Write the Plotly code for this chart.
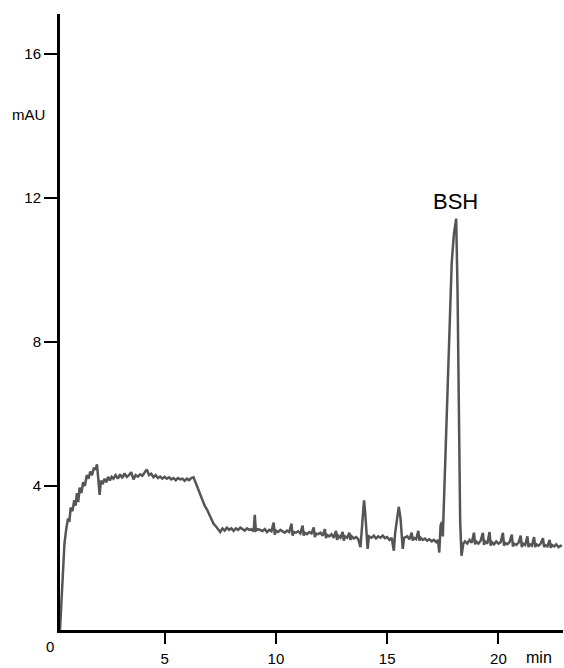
import plotly.graph_objects as go

time_min = [0.30, 0.34, 0.38, 0.44, 0.50, 0.58, 0.66, 0.72, 0.78, 0.86, 0.94, 1.00, 1.06, 1.12, 1.18, 1.26,
            1.34, 1.42, 1.50, 1.58, 1.66, 1.74, 1.82, 1.90, 1.96, 2.02, 2.08, 2.14, 2.22, 2.30, 2.38, 2.46,
            2.54, 2.62, 2.70, 2.80, 2.90, 3.00, 3.10, 3.20, 3.30, 3.40, 3.50, 3.60, 3.70, 3.80, 3.90, 4.00,
            4.10, 4.20, 4.30, 4.40, 4.50, 4.60, 4.70, 4.80, 4.90, 5.00, 5.10, 5.20, 5.30, 5.40, 5.50, 5.60,
            5.70, 5.80, 5.90, 6.00, 6.10, 6.20, 6.30, 6.40, 6.50, 6.60, 6.70, 6.80, 6.90, 7.00, 7.10, 7.20,
            7.30, 7.40, 7.50, 7.60, 7.70, 7.80, 7.90, 8.00, 8.10, 8.20, 8.30, 8.40, 8.50, 8.60, 8.70, 8.80,
            8.90, 9.00, 9.05, 9.10, 9.20, 9.30, 9.40, 9.50, 9.60, 9.70, 9.80, 9.90, 9.95, 10.00,
            10.1, 10.2, 10.3, 10.4, 10.5, 10.6, 10.7, 10.75, 10.8, 10.9, 11.0, 11.1, 11.2, 11.25, 11.3, 11.4,
            11.5, 11.6, 11.7, 11.75, 11.8, 11.9, 12.0, 12.1, 12.2, 12.25, 12.3, 12.4, 12.5, 12.6, 12.7, 12.75,
            12.8, 12.9, 13.0, 13.05, 13.1, 13.2, 13.3, 13.35, 13.4, 13.5, 13.6, 13.7, 13.8, 13.85, 13.9, 13.96,
            14.02, 14.08, 14.12, 14.18, 14.3, 14.4, 14.5, 14.6, 14.7, 14.8, 14.9, 15.0, 15.1, 15.2, 15.3, 15.36,
            15.44, 15.52, 15.6, 15.66, 15.7, 15.76, 15.9, 16.0, 16.1, 16.15, 16.2, 16.3, 16.4, 16.45, 16.5, 16.6,
            16.7, 16.8, 16.9, 17.0, 17.1, 17.2, 17.28, 17.34, 17.4, 17.46, 17.5, 17.6, 17.7, 17.8, 17.9, 18.0,
            18.1, 18.16, 18.2, 18.24, 18.28, 18.34, 18.42, 18.5, 18.6, 18.7, 18.8, 18.9, 18.95, 19.0, 19.1, 19.2,
            19.3, 19.35, 19.4, 19.5, 19.6, 19.65, 19.7, 19.8, 19.9, 20.0, 20.1, 20.2, 20.25, 20.3, 20.4, 20.5,
            20.6, 20.65, 20.7, 20.8, 20.9, 21.0, 21.05, 21.1, 21.2, 21.3, 21.35, 21.4, 21.5, 21.6, 21.65, 21.7,
            21.8, 21.9, 22.0, 22.05, 22.1, 22.2, 22.3, 22.35, 22.4, 22.5, 22.6, 22.7, 22.8, 22.85]

absorbance_mau = [0.0, 0.5, 1.2, 2.0, 2.4, 2.8, 3.1, 3.0, 3.4, 3.3, 3.6, 3.45, 3.8, 3.55, 3.95, 3.8,
                  4.1, 4.0, 4.3, 4.2, 4.4, 4.3, 4.5, 4.45, 4.6, 4.2, 3.75, 4.15, 4.05, 4.2, 4.1, 4.25,
                  4.15, 4.25, 4.2, 4.3, 4.2, 4.32, 4.22, 4.35, 4.25, 4.3, 4.38, 4.18, 4.3, 4.26, 4.32, 4.28,
                  4.36, 4.46, 4.3, 4.34, 4.24, 4.3, 4.22, 4.26, 4.2, 4.25, 4.2, 4.24, 4.18, 4.22, 4.16, 4.22,
                  4.18, 4.2, 4.14, 4.2, 4.16, 4.22, 4.24, 4.08, 3.95, 3.8, 3.6, 3.45, 3.35, 3.2, 3.05, 2.95,
                  2.88, 2.8, 2.72, 2.82, 2.76, 2.84, 2.78, 2.82, 2.75, 2.82, 2.78, 2.84, 2.8, 2.76, 2.82, 2.78,
                  2.8, 2.74, 3.2, 2.76, 2.8, 2.78, 2.75, 2.8, 2.72, 2.78, 2.74, 2.98, 2.65, 2.76,
                  2.72, 2.78, 2.74, 2.7, 2.76, 2.72, 2.95, 2.62, 2.72, 2.7, 2.74, 2.68, 2.9, 2.62, 2.7, 2.66,
                  2.72, 2.68, 2.85, 2.58, 2.68, 2.66, 2.7, 2.62, 2.8, 2.55, 2.64, 2.6, 2.66, 2.56, 2.75, 2.5,
                  2.62, 2.56, 2.72, 2.48, 2.6, 2.56, 2.7, 2.5, 2.6, 2.54, 2.58, 2.52, 2.3, 2.75, 3.3, 3.6,
                  3.2, 2.6, 2.25, 2.6, 2.56, 2.62, 2.54, 2.6, 2.56, 2.62, 2.55, 2.58, 2.5, 2.56, 2.2, 2.7,
                  3.1, 3.42, 3.1, 2.6, 2.25, 2.56, 2.6, 2.52, 2.7, 2.48, 2.56, 2.52, 2.75, 2.48, 2.56, 2.5,
                  2.54, 2.48, 2.52, 2.46, 2.5, 2.44, 2.5, 2.15, 2.9, 3.0, 2.6, 4.5, 6.6, 8.8, 10.2, 11.0,
                  11.42, 9.5, 7.0, 4.5, 3.0, 2.06, 2.4, 2.46, 2.4, 2.5, 2.42, 2.7, 2.38, 2.46, 2.4, 2.48,
                  2.7, 2.36, 2.46, 2.4, 2.72, 2.34, 2.44, 2.38, 2.46, 2.4, 2.44, 2.7, 2.34, 2.42, 2.38, 2.44,
                  2.65, 2.32, 2.4, 2.36, 2.42, 2.62, 2.3, 2.4, 2.36, 2.6, 2.3, 2.38, 2.34, 2.58, 2.3, 2.38,
                  2.34, 2.4, 2.55, 2.3, 2.36, 2.32, 2.5, 2.28, 2.36, 2.32, 2.38, 2.3, 2.34, 2.32]

x_ticks = [5, 10, 15, 20]
y_ticks = [4, 8, 12, 16]
peak_label = "BSH"
peak_time = 18.07
peak_label_y = 11.9

FONT = "Arial, Liberation Sans, Helvetica, sans-serif"

fig = go.Figure()
fig.add_trace(go.Scatter(x=time_min, y=absorbance_mau, mode="lines",
                         line=dict(color="#555555", width=2.5), showlegend=False, hoverinfo="skip"))

fig.update_layout(
    width=564, height=668,
    margin=dict(l=60, r=1, t=14, b=28),
    paper_bgcolor="white", plot_bgcolor="white",
    font=dict(family=FONT, size=15, color="black"),
    xaxis=dict(range=[0.3, 22.9], tickvals=x_ticks, ticks="outside", ticklen=11, tickwidth=1.5,
               tickcolor="black", showline=True, linecolor="black", linewidth=3,
               showgrid=False, zeroline=False, tickfont=dict(size=15), ticklabelstandoff=2),
    yaxis=dict(range=[0, 17.1], tickvals=y_ticks, ticks="outside", ticklen=13, tickwidth=1.5,
               tickcolor="black", showline=True, linecolor="black", linewidth=3,
               showgrid=False, zeroline=False, tickfont=dict(size=15)),
    annotations=[
        dict(text="mAU", xref="paper", yref="y", x=-0.062, y=14.3, showarrow=False,
             xanchor="center", yanchor="middle", font=dict(size=15)),
        dict(text="min", xref="x", yref="paper", x=21.8, y=-0.044, showarrow=False,
             xanchor="center", yanchor="middle", font=dict(size=16)),
        dict(text="0", xref="paper", yref="paper", x=-0.02, y=-0.026, showarrow=False,
             xanchor="center", yanchor="middle", font=dict(size=15)),
        dict(text=peak_label, xref="x", yref="y", x=peak_time, y=peak_label_y, showarrow=False,
             xanchor="center", yanchor="middle", font=dict(size=22)),
    ],
)

fig.write_html("out.html")
